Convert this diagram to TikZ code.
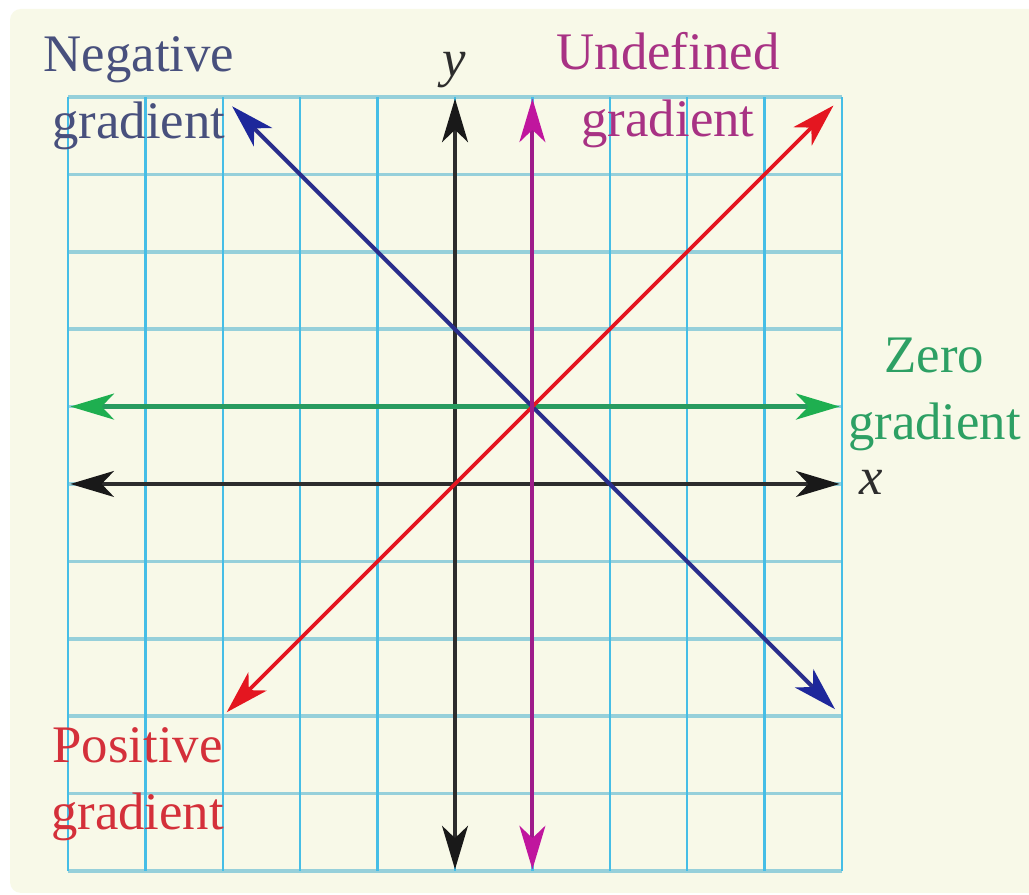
\documentclass[tikz,border=0pt]{standalone}
\usepackage{fontspec}
\setmainfont{Liberation Serif}
\usetikzlibrary{arrows.meta}
\definecolor{cream}{RGB}{248,249,232}
\definecolor{gridh}{RGB}{150,208,218}
\definecolor{gridv}{RGB}{70,190,230}
\definecolor{axisc}{RGB}{45,45,45}
\definecolor{axish}{RGB}{25,25,25}
\definecolor{greenl}{RGB}{40,155,95}
\definecolor{greenh}{RGB}{30,175,80}
\definecolor{greent}{RGB}{45,160,100}
\definecolor{redl}{RGB}{228,22,32}
\definecolor{redt}{RGB}{212,48,58}
\definecolor{bluel}{RGB}{42,46,140}
\definecolor{blueh}{RGB}{30,40,155}
\definecolor{bluet}{RGB}{72,80,125}
\definecolor{magl}{RGB}{158,28,138}
\definecolor{magh}{RGB}{192,22,158}
\definecolor{magt}{RGB}{168,50,132}
\begin{document}
\begin{tikzpicture}[x=1cm,y=1cm,
  dbl/.style={line width=1.5pt, {Stealth[length=16pt,width=9.5pt,inset=4.5pt,color=#1,fill=#1]}-{Stealth[length=16pt,width=9.5pt,inset=4.5pt,color=#1,fill=#1]}},
  lbl/.style={anchor=base, inner sep=0pt, font=\fontsize{19.4}{24.3}\selectfont},
  hgrid/.style={gridh, line width=1.3pt},
  vgrid/.style={gridv, line width=0.9pt},
]
\useasboundingbox (-5.879,-5.310) rectangle (7.416,6.253);
\fill[white] (-5.879,-5.310) rectangle (7.416,6.253);
\fill[cream, rounded corners=4pt] (-5.749,-5.284) rectangle (7.6,6.137);

% grid
\foreach \i in {-5,...,5} \draw[hgrid] (-5,\i) -- (5,\i);
\foreach \i in {-5,...,5} \draw[vgrid] (\i,-5) -- (\i,5);

% end points
\coordinate (xL) at (-4.97,0);
\coordinate (xR) at (4.97,0);
\coordinate (yB) at (0,-4.98);
\coordinate (yT) at (0,4.98);
\coordinate (zL) at (-4.97,1);
\coordinate (zR) at (4.97,1);
\coordinate (uB) at (1,-4.98);
\coordinate (uT) at (1,4.98);
\coordinate (pB) at (-2.95,-2.95);
\coordinate (pT) at (4.89,4.89);
\coordinate (nT) at (-2.88,4.88);
\coordinate (nB) at (4.91,-2.91);

% lines
\draw[dbl=axish, axisc] (xL) -- (xR);
\draw[dbl=axish, axisc] (yB) -- (yT);
\draw[dbl=greenh, greenl, line width=1.9pt] (zL) -- (zR);
\draw[dbl=blueh, bluel] (nT) -- (nB);
\draw[dbl=redl, redl, line width=1.4pt] (pB) -- (pT);
\draw[dbl=magh, magl] (uB) -- (uT);

% labels
\node[lbl, bluet] (neg) at (-4.083,5.323) {\begin{tabular}[t]{@{}c@{}}Negative\\gradient\end{tabular}};
\node[lbl, magt] (und) at (2.752,5.349) {\begin{tabular}[t]{@{}c@{}}Undefined\\gradient\end{tabular}};
\node[lbl, greent] (zer) at (6.195,1.434) {\begin{tabular}[t]{@{}c@{}}Zero\\gradient\end{tabular}};
\node[lbl, redt] (pos) at (-4.102,-3.605) {\begin{tabular}[t]{@{}c@{}}Positive\\gradient\end{tabular}};
\node[lbl, axisc] (xlab) at (5.375,-0.142) {\textit{x}};
\node[lbl, axisc] (ylab) at (-0.013,5.26) {\textit{y}};
\end{tikzpicture}
\end{document}
